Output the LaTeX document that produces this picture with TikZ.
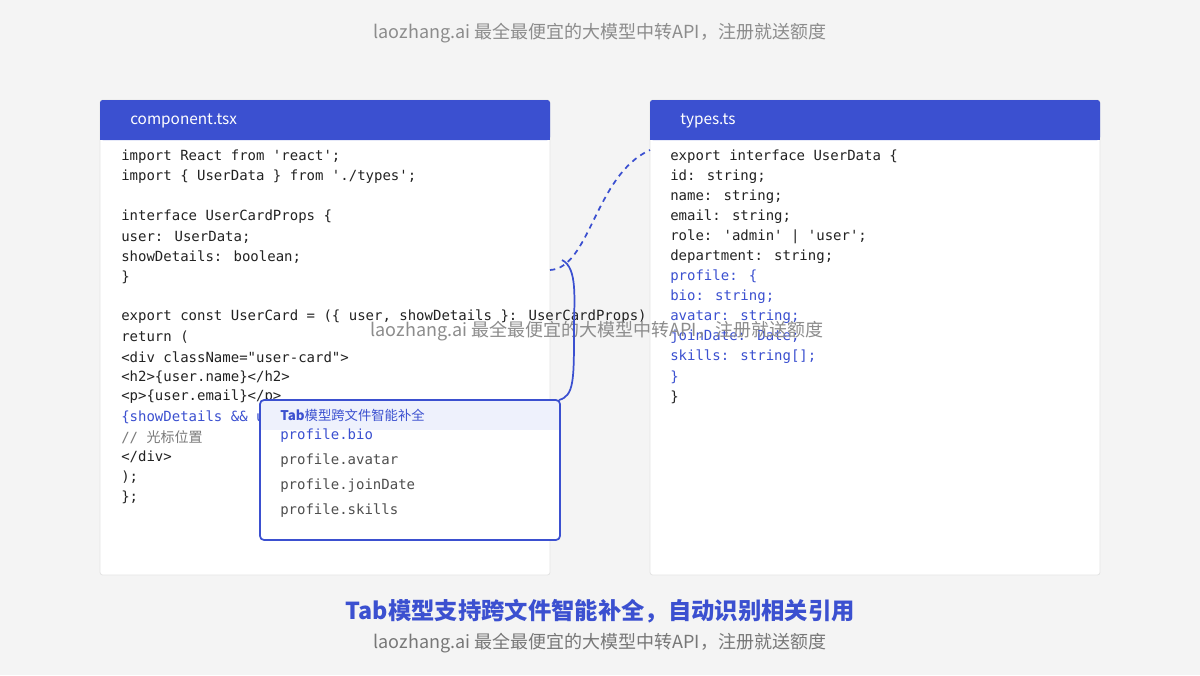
\documentclass[tikz,border=0pt]{standalone}
\usepackage{fontspec}
\setmainfont{Noto Sans CJK SC}
\newfontfamily\code{DejaVu Sans Mono}
\newfontfamily\cjk{Noto Sans CJK SC}
\definecolor{bg}{HTML}{F4F4F4}
\definecolor{acc}{HTML}{3B50D0}
\definecolor{ink}{HTML}{222222}
\definecolor{cmt}{HTML}{7A7A7A}
\definecolor{wm}{HTML}{8C8C8C}
\definecolor{pane}{HTML}{E4E4E4}
\definecolor{hl}{HTML}{EEF1FC}
\tikzset{
  cl/.style={anchor=west,inner sep=0pt,text=ink,font=\code\fontsize{10.5}{12}\selectfont},
  cb/.style={cl,text=acc},
  cg/.style={anchor=west,inner sep=0pt,text=cmt,font=\code\fontsize{10.5}{12}\selectfont},
  panelbox/.style={fill=white,draw=pane,line width=0.6pt,rounded corners=2pt},
  headbox/.style={fill=acc,rounded corners=2pt},
  wmk/.style={text=wm,font=\cjk\fontsize{13.5}{15}\selectfont,inner sep=0pt}
}
\begin{document}
\begin{tikzpicture}[x=0.75pt,y=-0.75pt]
\fill[bg] (0,0) rectangle (1200,675);
\useasboundingbox (0,0) rectangle (1200,675);
\node[wmk] (wtop) at (600,33) {laozhang.ai 最全最便宜的大模型中转API，注册就送额度};
% panels
\draw[panelbox] (100,100) rectangle (550,575);
\fill[headbox] (100,100) rectangle (550,140);
\fill[acc] (100,125) rectangle (550,140);
\node[anchor=west,text=white,font=\fontsize{11.5}{13}\selectfont,inner sep=0pt] (h1) at (130,121) {component.tsx};
\draw[panelbox] (650,100) rectangle (1100,575);
\fill[headbox] (650,100) rectangle (1100,140);
\fill[acc] (650,125) rectangle (1100,140);
\node[anchor=west,text=white,font=\fontsize{11.5}{13}\selectfont,inner sep=0pt] (h2) at (680,121) {types.ts};
% left code
\node[cl] (a1) at (121,157) {import React from 'react';};
\node[cl] (a2) at (121,177) {import \{ UserData \} from './types';};
\node[cl] (a4) at (121,217) {interface UserCardProps \{};
\node[cl] (a5) at (121,237) {user: UserData;};
\node[cl] (a6) at (121,257) {showDetails: boolean;};
\node[cl] (a7) at (121,277) {\}};
\node[cl] (a9) at (121,317) {export const UserCard = (\{ user, showDetails \}: UserCardProps)};
\node[cl] (a10) at (121,337) {return (};
\node[cl] (a11) at (121,357) {<div className="user-card">};
\node[cl] (a12) at (121,377) {<h2>\{user.name\}</h2>};
\node[cl] (a13) at (121,397) {<p>\{user.email\}</p>};
\node[cb] (a14) at (121,417) {\{showDetails \&\& user.};
\node[cg] (a15) at (121,437) {// {\cjk 光标位置}};
\node[cl] (a16) at (121,457) {</div>};
\node[cl] (a17) at (121,477) {);};
\node[cl] (a18) at (121,497) {\};};
% right code
\node[cl] (b1) at (670,157) {export interface UserData \{};
\node[cl] (b2) at (670,177) {id: string;};
\node[cl] (b3) at (670,197) {name: string;};
\node[cl] (b4) at (670,217) {email: string;};
\node[cl] (b5) at (670,237) {role: 'admin' | 'user';};
\node[cl] (b6) at (670,257) {department: string;};
\node[cb] (b7) at (670,277) {profile: \{};
\node[cb] (b8) at (670,297) {bio: string;};
\node[cb] (b9) at (670,317) {avatar: string;};
\node[cb] (b10) at (670,337) {joinDate: Date;};
\node[cb] (b11) at (670,357) {skills: string[];};
\node[cb] (b12) at (670,377) {\}};
\node[cl] (b13) at (670,397) {\}};
% watermark middle
\node[wmk] (wmid) at (597,331) {laozhang.ai 最全最便宜的大模型中转API，注册就送额度};
% connectors
\coordinate (p1) at (550,270);
\coordinate (p2) at (650,150);
\draw[acc,line width=1.3pt,dash pattern=on 4pt off 3.5pt] (p1) .. controls (590,268) and (595,175) .. (p2);
% popup
\fill[white] (260,400) rectangle (560,540);
\fill[hl] (261,401) rectangle (559,430);
\draw[acc,line width=1.3pt,rounded corners=3pt] (260,400) rectangle (560,540);
\node[anchor=west,inner sep=0pt,text=acc,font=\fontsize{10}{12}\selectfont] (ptitle) at (280,415) {\textbf{Tab}模型跨文件智能补全};
\node[cb] (c1) at (280,436) {profile.bio};
\node[cg,text=ink!80] (c2) at (280,461) {profile.avatar};
\node[cg,text=ink!80] (c3) at (280,486) {profile.joinDate};
\node[cg,text=ink!80] (c4) at (280,511) {profile.skills};
\coordinate (q1) at (562,260);
\coordinate (q2) at (559,400);
\draw[acc,line width=1.3pt] (q1) .. controls (578,268) and (574,300) .. (574,330) .. controls (574,380) and (574,396) .. (q2);
% bottom
\node[text=acc,font=\fontsize{17.5}{20}\selectfont\bfseries,inner sep=0pt] (t1) at (600,611) {Tab模型支持跨文件智能补全，自动识别相关引用};
\node[wmk,text=wm!85!black] (t2) at (600,643) {laozhang.ai 最全最便宜的大模型中转API，注册就送额度};
\end{tikzpicture}
\end{document}
